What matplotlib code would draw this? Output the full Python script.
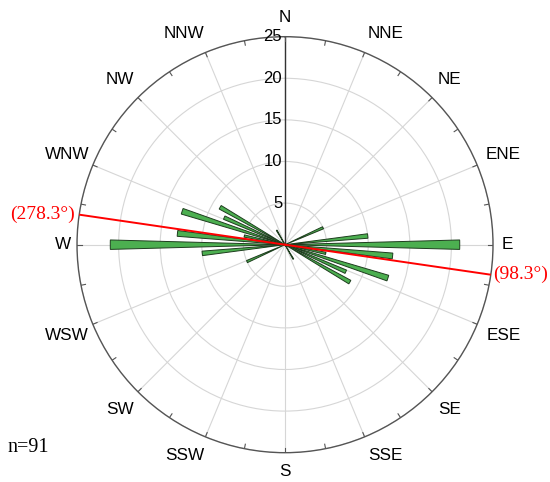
import numpy as np
import matplotlib
matplotlib.use('Agg')
import matplotlib.pyplot as plt

# axial data: one half of the rose, mirrored by 180 deg below
bin_deg = [66, 84, 90, 96, 102, 108, 114, 120, 150]
counts = [5, 10, 21, 13, 5, 13, 8, 9, 2]

mean_dir = 98.3
n_total = 91
r_ticks = [5, 10, 15, 20, 25]
dir_labels = ['N', 'NNE', 'NE', 'ENE', 'E', 'ESE', 'SE', 'SSE',
              'S', 'SSW', 'SW', 'WSW', 'W', 'WNW', 'NW', 'NNW']
# label placement (radius in data units, angular nudge in deg)
lab_r = [27.3, 28.1, 28.0, 28.4, 26.7, 28.4, 28.0, 28.1,
         27.3, 28.1, 28.0, 28.4, 26.7, 28.4, 28.0, 28.1]
lab_dt = [0, 3, 0, 0, 0, 0, 0, -3, 0, 3, 0, 0, 0, 0, 0, -3]

sans = 'Liberation Sans'
serif = 'Liberation Serif'

fig = plt.figure(figsize=(5.5, 4.82), dpi=100)
ax = fig.add_axes([0.14, 0.0608, 0.7564, 0.8631], projection='polar')
ax.set_theta_zero_location('N')
ax.set_theta_direction(-1)
ax.set_ylim(0, 25)

ax.set_xticks(np.radians(np.arange(0, 360, 22.5)))
ax.set_xticklabels([])
ax.set_yticks(r_ticks)
ax.set_yticklabels([])
ax.tick_params(length=0)
ax.grid(color='#d6d6d6', lw=0.8)
ax.spines['polar'].set_color('#555555')
ax.spines['polar'].set_linewidth(1.0)

# bars (mirror for axial data)
angles = np.array(bin_deg + [a + 180 for a in bin_deg])
vals = np.array(counts + counts)
ax.bar(np.radians(angles), vals, width=np.radians(3.1), bottom=0,
       color='#4caf50', edgecolor='#1e3d1e', linewidth=0.7, zorder=3)

# dark radial axis line to N
ax.plot([0, 0], [0, 25], color='#333333', lw=1.0, zorder=2)

# small ticks on the outer circle
for a in np.arange(0, 360, 11.25):
    t = np.radians(a)
    ax.plot([t, t], [24.45, 25], color='#555555', lw=0.8, zorder=2)

# mean direction line
for a in [mean_dir, mean_dir + 180]:
    t = np.radians(a)
    ax.plot([t, t], [0, 25], color='red', lw=1.4, zorder=4)

ax.annotate('(%.1f°)' % (mean_dir + 180), xy=(np.radians(mean_dir + 180), 25),
            xytext=(-3, 0), textcoords='offset points', ha='right', va='center',
            color='red', fontsize=14, family=serif, annotation_clip=False)
ax.annotate('(%.1f°)' % mean_dir, xy=(np.radians(mean_dir), 25),
            xytext=(1.5, 0), textcoords='offset points', ha='left', va='center',
            color='red', fontsize=14, family=serif, annotation_clip=False)

# radial labels
for r in r_ticks:
    ax.annotate(str(r), xy=(0, r), xytext=(-2, 0), textcoords='offset points',
                ha='right', va='center', fontsize=12, family=sans,
                annotation_clip=False, zorder=5)

# compass labels
for i, lab in enumerate(dir_labels):
    ax.text(np.radians(i * 22.5 + lab_dt[i]), lab_r[i], lab, ha='center',
            va='center', fontsize=12.3, family=sans)

fig.text(7 / 550, 1 - 448 / 482, 'n=%d' % n_total, ha='left', va='center',
         fontsize=14.5, family=serif)

fig.savefig('out.png', dpi=100)
